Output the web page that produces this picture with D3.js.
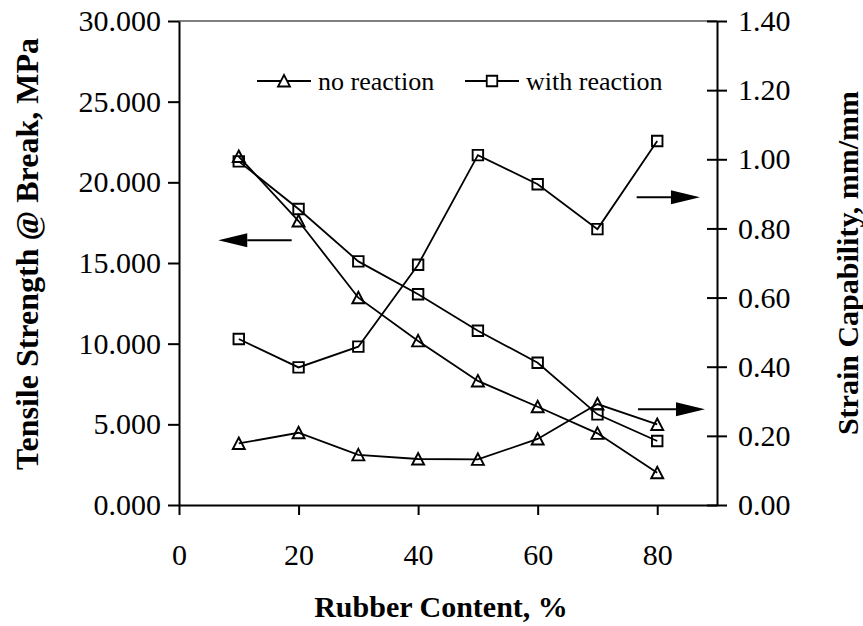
<!DOCTYPE html>
<html>
<head>
<meta charset="utf-8">
<script src="https://cdn.jsdelivr.net/npm/d3@7/dist/d3.min.js"></script>
<style>
  html, body { margin: 0; padding: 0; background: #fff; }
  svg { display: block; }
</style>
</head>
<body>
<svg id="chart" width="863" height="626"></svg>
<script>
// Rubber content (%) for each test mix
const rubberContent = [10, 20, 30, 40, 50, 60, 70, 80];

// Tensile strength at break, MPa (left axis)
const tensileNoReaction   = [21.6, 17.6, 12.85, 10.17, 7.69, 6.09, 4.44, 2.00];
const tensileWithReaction = [21.3, 18.35, 15.1, 13.06, 10.8, 8.82, 5.62, 3.97];

// Strain capability, mm/mm (right axis)
const strainNoReaction   = [0.178, 0.209, 0.145, 0.133, 0.132, 0.191, 0.292, 0.233];
const strainWithReaction = [0.48, 0.398, 0.458, 0.695, 1.012, 0.928, 0.798, 1.053];

// Axis ticks
const xTicks = [0, 20, 40, 60, 80];
const leftTicks = [0, 5, 10, 15, 20, 25, 30];
const rightTicks = [0, 0.2, 0.4, 0.6, 0.8, 1.0, 1.2, 1.4];

// Legend entries
const legendLabels = ["no reaction", "with reaction"];

const svg = d3.select("#chart");
const serif = "'Liberation Serif', 'Times New Roman', Times, serif";

const plot = { left: 179, right: 717, top: 21, bottom: 505 };

const x = d3.scaleLinear().domain([0, 90]).range([plot.left, plot.right]);
const yL = d3.scaleLinear().domain([0, 30]).range([plot.bottom, plot.top]);
const yR = d3.scaleLinear().domain([0, 1.4]).range([plot.bottom, plot.top]);

// Top frame edge
svg.append("line")
  .attr("x1", plot.left).attr("x2", plot.right)
  .attr("y1", plot.top).attr("y2", plot.top)
  .attr("stroke", "#808080").attr("stroke-width", 2);

// Left axis
const gL = svg.append("g").attr("transform", `translate(${plot.left},0)`)
  .call(d3.axisLeft(yL).tickValues(leftTicks).tickFormat(d3.format(".3f"))
    .tickSize(11).tickSizeOuter(0).tickPadding(7));

// Right axis with ticks crossing the line
const gR = svg.append("g").attr("transform", `translate(${plot.right},0)`)
  .call(d3.axisRight(yR).tickValues(rightTicks).tickFormat(d3.format(".2f"))
    .tickSize(10).tickSizeOuter(0));
gR.selectAll(".tick line").attr("x1", -10).attr("x2", 10);
gR.selectAll(".tick text").attr("x", 21);

// Bottom axis
const gB = svg.append("g").attr("transform", `translate(0,${plot.bottom})`)
  .call(d3.axisBottom(x).tickValues(xTicks).tickFormat(d3.format("d"))
    .tickSize(10).tickSizeOuter(0));
gB.selectAll(".tick text").attr("y", 60).attr("dy", 0);

[gL, gR, gB].forEach(g => {
  g.selectAll("path.domain").attr("stroke", "#000").attr("stroke-width", 2);
  g.selectAll(".tick line").attr("stroke", "#000").attr("stroke-width", 2);
  g.selectAll(".tick text")
    .attr("fill", "#000")
    .style("font-family", serif)
    .style("font-size", "30px");
});

// Axis titles
svg.append("text")
  .attr("x", 441).attr("y", 617)
  .attr("text-anchor", "middle")
  .style("font-family", serif).style("font-size", "30px").style("font-weight", "bold")
  .text("Rubber Content, %");

svg.append("text")
  .attr("transform", "translate(38,254) rotate(-90)")
  .attr("text-anchor", "middle")
  .style("font-family", serif).style("font-size", "32px").style("font-weight", "bold")
  .text("Tensile Strength @ Break, MPa");

svg.append("text")
  .attr("transform", "translate(858,263) rotate(-90)")
  .attr("text-anchor", "middle")
  .style("font-family", serif).style("font-size", "30px").style("font-weight", "bold")
  .text("Strain Capability, mm/mm");

// Marker shapes
const trianglePath = "M0,-6L6,5.5L-6,5.5Z";
const squarePath = "M-5.25,-5.25H5.25V5.25H-5.25Z";

function drawSeries(values, yScale, markerPath) {
  const pts = rubberContent.map((c, i) => [x(c), yScale(values[i])]);
  svg.append("path")
    .attr("d", d3.line()(pts))
    .attr("fill", "none").attr("stroke", "#000").attr("stroke-width", 1.8);
  svg.append("g").selectAll("path")
    .data(pts).join("path")
    .attr("transform", d => `translate(${d[0]},${d[1]})`)
    .attr("d", markerPath)
    .attr("fill", "none").attr("stroke", "#000").attr("stroke-width", 1.9);
}

drawSeries(tensileNoReaction, yL, trianglePath);
drawSeries(tensileWithReaction, yL, squarePath);
drawSeries(strainNoReaction, yR, trianglePath);
drawSeries(strainWithReaction, yR, squarePath);

// Arrows pointing to the axis each group of curves belongs to
function arrow(x0, x1, yv) {
  const dir = Math.sign(x1 - x0);
  const headLen = 29;
  const xTail = x(x0), xTip = x(x1), yy = yv;
  svg.append("line")
    .attr("x1", xTail).attr("x2", xTip - dir * headLen)
    .attr("y1", yy).attr("y2", yy)
    .attr("stroke", "#000").attr("stroke-width", 2);
  svg.append("path")
    .attr("d", `M${xTip},${yy}L${xTip - dir * headLen},${yy - 7}L${xTip - dir * headLen},${yy + 7}Z`)
    .attr("fill", "#000");
}
arrow(18.85, 6.57, yL(16.41));
arrow(76.56, 87.15, yR(0.890));
arrow(76.78, 87.99, yR(0.277));

// Legend
const legendItems = [
  { label: legendLabels[0], marker: trianglePath, x0: 257 },
  { label: legendLabels[1], marker: squarePath, x0: 465 }
];
const legendY = 81;
legendItems.forEach(item => {
  const g = svg.append("g");
  g.append("line")
    .attr("x1", item.x0).attr("x2", item.x0 + 54)
    .attr("y1", legendY).attr("y2", legendY)
    .attr("stroke", "#000").attr("stroke-width", 1.8);
  g.append("path")
    .attr("transform", `translate(${item.x0 + 27},${legendY})`)
    .attr("d", item.marker)
    .attr("fill", "#fff").attr("stroke", "#000").attr("stroke-width", 1.8);
  g.append("text")
    .attr("x", item.x0 + 61).attr("y", legendY + 9)
    .style("font-family", serif).style("font-size", "26px")
    .text(item.label);
});
</script>
</body>
</html>
